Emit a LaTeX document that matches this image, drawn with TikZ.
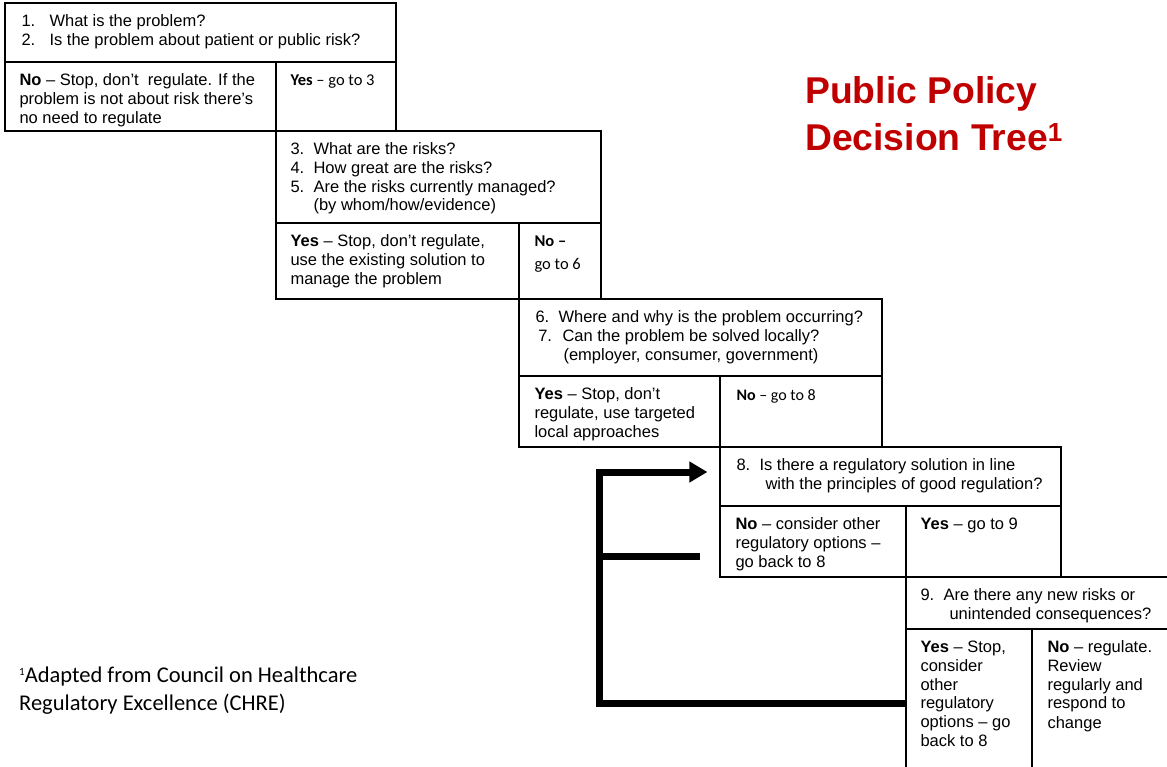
\documentclass[tikz,border=0pt]{standalone}
\usepackage{fontspec}
\setmainfont{Liberation Sans}
\newfontfamily\calib[Ligatures=TeX]{Carlito}
\usepackage{tikz}
\usetikzlibrary{fit,arrows.meta}
\definecolor{titlered}{RGB}{192,0,0}
\def\num#1{\makebox[23pt][l]{#1}}% question number, hanging

\tikzset{
  cell/.style={draw, line width=1.3pt, inner sep=0pt, fit={#1}},
  boxtext/.style={anchor=north west, inner sep=0pt, align=left,
    font=\fontsize{16.5}{18.8}\selectfont},
  calibtext/.style={boxtext, font=\calib\fontsize{16.5}{18.8}\selectfont},
  backline/.style={line width=7pt, line join=miter},
}

\begin{document}
\begin{tikzpicture}[x=1pt,y=-1pt]
   \useasboundingbox (0,0) rectangle (1167,767);
   \clip (0,0) rectangle (1167,767);

   % questions 1-2
   \node[cell={(5,3) (396,62)}] (q1) {};
   \node[cell={(5,62) (276,131)}] (n1) {};
   \node[cell={(276,62) (396,131)}] (y1) {};
   \node[boxtext] (tq1) at ([shift={(17,10.8)}]q1.north west)
     {\strut\makebox[28pt][l]{1.}What is the problem?\\
      \makebox[28pt][l]{2.}Is the problem about patient or public risk?};
   \node[boxtext] (tn1) at ([shift={(15,10.8)}]n1.north west)
     {\strut\textbf{No} -- Stop, don't\ \ regulate. If the\\
      problem is not about risk there's\\no need to regulate};
   \node[calibtext] (ty1) at ([shift={(15,10.8)}]y1.north west)
     {\strut\textbf{Yes} -- go to 3};

   % questions 3-5
   \node[cell={(276,131) (601,223)}] (q3) {};
   \node[cell={(276,223) (519,299)}] (y3) {};
   \node[cell={(519,223) (601,299)}] (n3) {};
   \node[boxtext] (tq3) at ([shift={(15,10.8)}]q3.north west)
     {\strut\num{3.}What are the risks?\\\num{4.}How great are the risks?\\
      \num{5.}Are the risks currently managed?\\\hspace*{23pt}(by whom/how/evidence)};
   \node[boxtext] (ty3) at ([shift={(15,10.8)}]y3.north west)
     {\strut\textbf{Yes} -- Stop, don't regulate,\\use the existing solution to\\manage the problem};
   \node[calibtext] (tn3) at ([shift={(16,10.8)}]n3.north west)
     {\strut\textbf{No --}\\[4.2pt]go to 6};

   % questions 6-7
   \node[cell={(519,299) (882,376)}] (q6) {};
   \node[cell={(519,376) (720,447)}] (y6) {};
   \node[cell={(720,376) (882,447)}] (n6) {};
   \node[boxtext] (tq6) at ([shift={(17,10.8)}]q6.north west)
     {\strut\num{6.}Where and why is the problem occurring?\\
      \makebox[27pt][l]{\,7.}Can the problem be solved locally?\\
      \hspace*{28pt}(employer, consumer, government)};
   \node[boxtext] (ty6) at ([shift={(16,10.8)}]y6.north west)
     {\strut\textbf{Yes} -- Stop, don't\\regulate, use targeted\\local approaches};
   \node[calibtext, font=\calib\fontsize{16}{18.8}\selectfont] (tn6)
     at ([shift={(17,11.5)}]n6.north west) {\strut\textbf{No} -- go to 8};

   % question 8
   \node[cell={(720,447) (1061,506)}] (q8) {};
   \node[cell={(720,506) (906,577)}] (n8) {};
   \node[cell={(906,506) (1061,577)}] (y8) {};
   \node[boxtext] (tq8) at ([shift={(17,10.8)}]q8.north west)
     {\strut\num{8.}Is there a regulatory solution in line\\
      \hspace*{29pt}with the principles of good regulation?};
   \node[boxtext] (tn8) at ([shift={(16,10.8)}]n8.north west)
     {\strut\textbf{No} -- consider other\\regulatory options --\\go back to 8};
   \node[boxtext] (ty8) at ([shift={(15,10.8)}]y8.north west)
     {\strut\textbf{Yes} -- go to 9};

   % question 9
   \node[cell={(906,577) (1180,629)}] (q9) {};
   \node[cell={(906,629) (1032,777)}] (y9) {};
   \node[cell={(1032,629) (1180,777)}] (n9) {};
   \node[boxtext] (tq9) at ([shift={(15,10.8)}]q9.north west)
     {\strut\num{9.}Are there any new risks or\\\hspace*{29pt}unintended consequences?};
   \node[boxtext] (ty9) at ([shift={(15,10.8)}]y9.north west)
     {\strut\textbf{Yes} -- Stop,\\consider\\other\\regulatory\\options -- go\\back to 8};
   \node[boxtext] (tn9) at ([shift={(16,10.8)}]n9.north west)
     {\strut\textbf{No} -- regulate.\\Review\\regularly and\\respond to\\[1pt]change};

   % way back to 8
   \coordinate (turn) at (599,472);
   \coordinate (stub) at (700,556);
   \draw[backline, -{Triangle[length=18pt,width=20pt]}, shorten >=12pt]
     (y9.west) -| (turn) -- (q8.west |- turn);
   \draw[backline] (turn |- stub) -- (stub);

   % title and source
   \node[anchor=north west, inner sep=0pt, align=left, text=titlered,
     font=\bfseries\fontsize{37.3}{47}\selectfont] (title) at (805,70.1)
     {\strut Public Policy\\Decision Tree\textsuperscript{1}};
   \node[anchor=north west, inner sep=0pt, align=left,
     font=\calib\fontsize{22.5}{28}\selectfont] (source) at (19,662.4)
     {\strut\raisebox{7pt}{\fontsize{11}{11}\selectfont 1}Adapted from Council on Healthcare\\Regulatory Excellence (CHRE)};
\end{tikzpicture}
\end{document}
